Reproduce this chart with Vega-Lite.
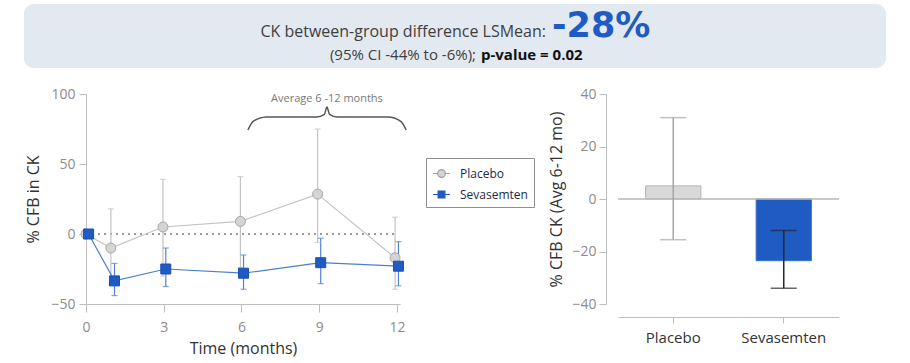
{
  "$schema": "https://vega.github.io/schema/vega-lite/v6.json",
  "padding": {"left": 24, "top": 4, "right": 0, "bottom": 8},
  "autosize": {"type": "pad"},
  "background": "white",
  "config": {
    "font": "Open Sans",
    "view": {"stroke": null},
    "axis": {
      "grid": false,
      "domainColor": "#bdbdbd",
      "tickColor": "#bdbdbd",
      "labelColor": "#8c8c8c",
      "labelFontSize": 14,
      "labelFont": "Open Sans",
      "titleFont": "Open Sans",
      "titleColor": "#333333",
      "titleFontSize": 16,
      "titleFontWeight": "normal"
    }
  },
  "datasets": {
    "ts": [
      {"group": "Placebo", "time": 0, "m": 0},
      {"group": "Placebo", "time": 0.96, "m": -10, "lo": -36, "hi": 18},
      {"group": "Placebo", "time": 2.97, "m": 5, "lo": -30, "hi": 39},
      {"group": "Placebo", "time": 5.96, "m": 9, "lo": -24, "hi": 41},
      {"group": "Placebo", "time": 8.94, "m": 28.5, "lo": -6, "hi": 75},
      {"group": "Placebo", "time": 11.93, "m": -17, "lo": -39.5, "hi": 12},
      {"group": "Sevasemten", "time": 0.1, "m": 0},
      {"group": "Sevasemten", "time": 1.1, "m": -33.5, "lo": -44, "hi": -21},
      {"group": "Sevasemten", "time": 3.08, "m": -25, "lo": -37.5, "hi": -10},
      {"group": "Sevasemten", "time": 6.08, "m": -28, "lo": -39.5, "hi": -15},
      {"group": "Sevasemten", "time": 9.06, "m": -20.5, "lo": -35.5, "hi": -3},
      {"group": "Sevasemten", "time": 12.06, "m": -23, "lo": -37, "hi": -5.5}
    ],
    "brace": [
      {"bx": 6.25, "by": 74.3},
      {"bx": 6.45, "by": 80.5},
      {"bx": 6.95, "by": 83.6},
      {"bx": 8.9, "by": 83.6},
      {"bx": 9.2, "by": 85.5},
      {"bx": 9.3, "by": 90.7},
      {"bx": 9.4, "by": 85.5},
      {"bx": 9.7, "by": 83.6},
      {"bx": 11.65, "by": 83.6},
      {"bx": 12.15, "by": 80.5},
      {"bx": 12.36, "by": 74.3}
    ],
    "avg": [
      {"group": "Placebo", "mean": 5, "lo": -15.5, "hi": 31},
      {"group": "Sevasemten", "mean": -23.5, "lo": -34, "hi": -12}
    ]
  },
  "columns": 1,
  "align": "none",
  "spacing": 19,
  "resolve": {"scale": {"color": "independent", "shape": "independent", "stroke": "independent"}},
  "concat": [
    {
      "width": 800,
      "height": 64,
      "view": {"stroke": null},
      "layer": [
        {
          "data": {"values": [{"t": "box"}]},
          "mark": {"type": "rect", "cornerRadius": 10, "color": "#e2e9f1"},
          "encoding": {
            "x": {"datum": -0.0775, "type": "quantitative", "scale": {"domain": [0, 1]}, "axis": null},
            "x2": {"datum": 1},
            "y": {"datum": 0, "type": "quantitative", "scale": {"domain": [0, 1]}, "axis": null},
            "y2": {"datum": 1}
          }
        },
        {
          "data": {"values": [{"t": "CK between-group difference LSMean:"}]},
          "mark": {"type": "text", "align": "right", "baseline": "alphabetic", "fontSize": 16, "color": "#3f3f3f", "font": "Open Sans"},
          "encoding": {
            "text": {"field": "t"},
            "x": {"datum": 0.575, "type": "quantitative"},
            "y": {"datum": 0.484, "type": "quantitative"}
          }
        },
        {
          "data": {"values": [{"t": "-28%"}]},
          "mark": {"type": "text", "align": "left", "baseline": "alphabetic", "fontSize": 35, "fontWeight": "bold", "color": "#1f5bc2", "font": "DejaVu Sans"},
          "encoding": {
            "text": {"field": "t"},
            "x": {"datum": 0.5825, "type": "quantitative"},
            "y": {"datum": 0.484, "type": "quantitative"}
          }
        },
        {
          "data": {"values": [{"t": "(95% CI  -44% to -6%);"}]},
          "mark": {"type": "text", "align": "right", "baseline": "alphabetic", "fontSize": 15, "color": "#3f3f3f", "font": "Open Sans"},
          "encoding": {
            "text": {"field": "t"},
            "x": {"datum": 0.4875, "type": "quantitative"},
            "y": {"datum": 0.125, "type": "quantitative"}
          }
        },
        {
          "data": {"values": [{"t": "p-value = 0.02"}]},
          "mark": {"type": "text", "align": "left", "baseline": "alphabetic", "fontSize": 15, "fontWeight": "bold", "color": "#111111", "font": "Open Sans"},
          "encoding": {
            "text": {"field": "t"},
            "x": {"datum": 0.49375, "type": "quantitative"},
            "y": {"datum": 0.125, "type": "quantitative"}
          }
        }
      ]
    },
    {
      "spacing": 13,
      "resolve": {"scale": {"color": "independent", "shape": "independent", "stroke": "independent"}},
      "hconcat": [
        {
          "width": 314,
          "height": 210,
          "layer": [
            {
              "data": {"name": "ts"},
              "mark": {"type": "rule", "color": "#9a9a9a", "strokeDash": [2, 4], "strokeWidth": 1.5},
              "encoding": {
                "x": {"datum": 0, "type": "quantitative", "scale": {"domain": [0, 12.12], "nice": false, "zero": false}, "axis": {"values": [0, 3, 6, 9, 12], "title": "Time (months)", "tickSize": 8, "labelPadding": 8, "titlePadding": 6, "labelFlush": false}},
                "x2": {"datum": 12},
                "y": {"datum": 0, "type": "quantitative", "scale": {"domain": [-50, 100], "nice": false}, "axis": {"values": [-50, 0, 50, 100], "title": "% CFB in CK", "tickSize": 7, "labelPadding": 4, "titlePadding": 9}}
              }
            },
            {
              "data": {"name": "ts"},
              "mark": {"type": "rule", "strokeWidth": 1.2},
              "encoding": {
                "x": {"field": "time", "type": "quantitative"},
                "y": {"field": "lo", "type": "quantitative"},
                "y2": {"field": "hi"},
                "stroke": {"condition": {"test": "datum.group === 'Placebo'", "value": "#c4c4c4"}, "value": "#4f84d4"}
              }
            },
            {
              "data": {"name": "ts"},
              "mark": {"type": "tick", "orient": "horizontal", "size": 6, "thickness": 1.2},
              "encoding": {
                "x": {"field": "time", "type": "quantitative"},
                "y": {"field": "hi", "type": "quantitative"},
                "color": {"condition": {"test": "datum.group === 'Placebo'", "value": "#c4c4c4"}, "value": "#4f84d4"}
              }
            },
            {
              "data": {"name": "ts"},
              "mark": {"type": "tick", "orient": "horizontal", "size": 6, "thickness": 1.2},
              "encoding": {
                "x": {"field": "time", "type": "quantitative"},
                "y": {"field": "lo", "type": "quantitative"},
                "color": {"condition": {"test": "datum.group === 'Placebo'", "value": "#c4c4c4"}, "value": "#4f84d4"}
              }
            },
            {
              "data": {"name": "ts"},
              "mark": {"type": "line", "strokeWidth": 1.2},
              "encoding": {
                "x": {"field": "time", "type": "quantitative"},
                "y": {"field": "m", "type": "quantitative"},
                "detail": {"field": "group"},
                "stroke": {"condition": {"test": "datum.group === 'Placebo'", "value": "#c4c4c4"}, "value": "#4a7fd0"}
              }
            },
            {
              "data": {"name": "ts"},
              "mark": {"type": "point", "filled": true, "opacity": 1, "strokeWidth": 1},
              "encoding": {
                "x": {"field": "time", "type": "quantitative"},
                "y": {"field": "m", "type": "quantitative"},
                "fill": {"condition": {"test": "datum.group === 'Placebo'", "value": "#d4d4d4"}, "value": "#1f5bc2"},
                "shape": {"condition": {"test": "datum.group === 'Placebo'", "value": "circle"}, "value": "square"},
                "size": {"value": 100},
                "stroke": {"condition": {"test": "datum.group === 'Placebo'", "value": "#a8a8a8"}, "value": "#1a50b0"}
              }
            },
            {
              "data": {"name": "ts"},
              "transform": [{"filter": "false"}],
              "mark": {"type": "point", "filled": true, "opacity": 1, "strokeWidth": 1.2},
              "encoding": {
                "x": {"field": "time", "type": "quantitative"},
                "y": {"field": "m", "type": "quantitative"},
                "color": {
                  "field": "group", "type": "nominal",
                  "scale": {"domain": ["Placebo", "Sevasemten"], "range": ["#d4d4d4", "#1f5bc2"]},
                  "legend": {"title": null, "orient": "none", "legendX": 340, "legendY": 64, "strokeColor": "#8f8f8f", "padding": 6, "labelFontSize": 12, "labelColor": "#1c2a4a", "labelFont": "Open Sans", "symbolSize": 289, "rowPadding": 5, "labelOffset": 9, "symbolStrokeWidth": 1.2}
                },
                "stroke": {
                  "field": "group", "type": "nominal",
                  "scale": {"domain": ["Placebo", "Sevasemten"], "range": ["#a0a0a0", "#1f5bc2"]},
                  "legend": {"title": null, "orient": "none", "legendX": 340, "legendY": 64, "strokeColor": "#8f8f8f", "padding": 6, "labelFontSize": 12, "labelColor": "#1c2a4a", "labelFont": "Open Sans", "symbolSize": 289, "rowPadding": 5, "labelOffset": 9, "symbolStrokeWidth": 1.2}
                },
                "shape": {
                  "field": "group", "type": "nominal",
                  "scale": {"domain": ["Placebo", "Sevasemten"], "range": ["M-1,0H-0.45M0.45,0H1M0.45,0A0.45,0.45 0 1,1 -0.45,0A0.45,0.45 0 1,1 0.45,0Z", "M-1,0H-0.4M0.4,0H1M-0.4,-0.4H0.4V0.4H-0.4Z"]},
                  "legend": {"title": null, "orient": "none", "legendX": 340, "legendY": 64, "strokeColor": "#8f8f8f", "padding": 6, "labelFontSize": 12, "labelColor": "#1c2a4a", "labelFont": "Open Sans", "symbolSize": 289, "rowPadding": 5, "labelOffset": 9, "symbolStrokeWidth": 1.2}
                }
              }
            },
            {
              "data": {"name": "brace"},
              "mark": {"type": "line", "interpolate": "monotone", "color": "#555555", "strokeWidth": 1.5},
              "encoding": {
                "x": {"field": "bx", "type": "quantitative"},
                "y": {"field": "by", "type": "quantitative"}
              }
            },
            {
              "data": {"values": [{"t": "Average 6 -12 months"}]},
              "mark": {"type": "text", "fontSize": 11, "color": "#777777", "baseline": "middle", "align": "center"},
              "encoding": {
                "text": {"field": "t"},
                "x": {"datum": 9.3, "type": "quantitative"},
                "y": {"datum": 96.6, "type": "quantitative"}
              }
            }
          ]
        },
        {
          "width": 221,
          "height": 210,
          "data": {"name": "avg"},
          "layer": [
            {
              "mark": {"type": "bar", "strokeWidth": 1},
              "encoding": {
                "x": {"field": "group", "type": "nominal", "sort": null, "scale": {"paddingInner": 0.5, "paddingOuter": 0.25}, "axis": {"title": null, "offset": 13, "tickSize": 6, "labelPadding": 7, "labelAngle": 0, "labelColor": "#333333", "labelFontSize": 15}},
                "y": {"field": "mean", "type": "quantitative", "scale": {"domain": [-40, 40], "nice": false}, "axis": {"values": [-40, -20, 0, 20, 40], "offset": 12, "tickSize": 7, "labelPadding": 3, "titlePadding": 7, "title": "% CFB CK  (Avg 6-12 mo)"}},
                "fill": {"condition": {"test": "datum.group === 'Placebo'", "value": "#d9d9d9"}, "value": "#1f5bc2"},
                "stroke": {"condition": {"test": "datum.group === 'Placebo'", "value": "#b3b3b3"}, "value": "#3a72cf"}
              }
            },
            {
              "mark": {"type": "rule", "color": "#b8b8b8", "strokeWidth": 1.2},
              "encoding": {"y": {"datum": 0, "type": "quantitative"}}
            },
            {
              "mark": {"type": "rule", "strokeWidth": 1.5},
              "encoding": {
                "x": {"field": "group", "type": "nominal", "sort": null},
                "y": {"field": "lo", "type": "quantitative"},
                "y2": {"field": "hi"},
                "stroke": {"condition": {"test": "datum.group === 'Placebo'", "value": "#a6a6a6"}, "value": "#262626"}
              }
            },
            {
              "mark": {"type": "tick", "orient": "horizontal", "size": 26, "thickness": 1.5},
              "encoding": {
                "x": {"field": "group", "type": "nominal", "sort": null},
                "y": {"field": "lo", "type": "quantitative"},
                "color": {"condition": {"test": "datum.group === 'Placebo'", "value": "#a6a6a6"}, "value": "#262626"}
              }
            },
            {
              "mark": {"type": "tick", "orient": "horizontal", "size": 26, "thickness": 1.5},
              "encoding": {
                "x": {"field": "group", "type": "nominal", "sort": null},
                "y": {"field": "hi", "type": "quantitative"},
                "color": {"condition": {"test": "datum.group === 'Placebo'", "value": "#a6a6a6"}, "value": "#262626"}
              }
            }
          ]
        }
      ]
    }
  ]
}
